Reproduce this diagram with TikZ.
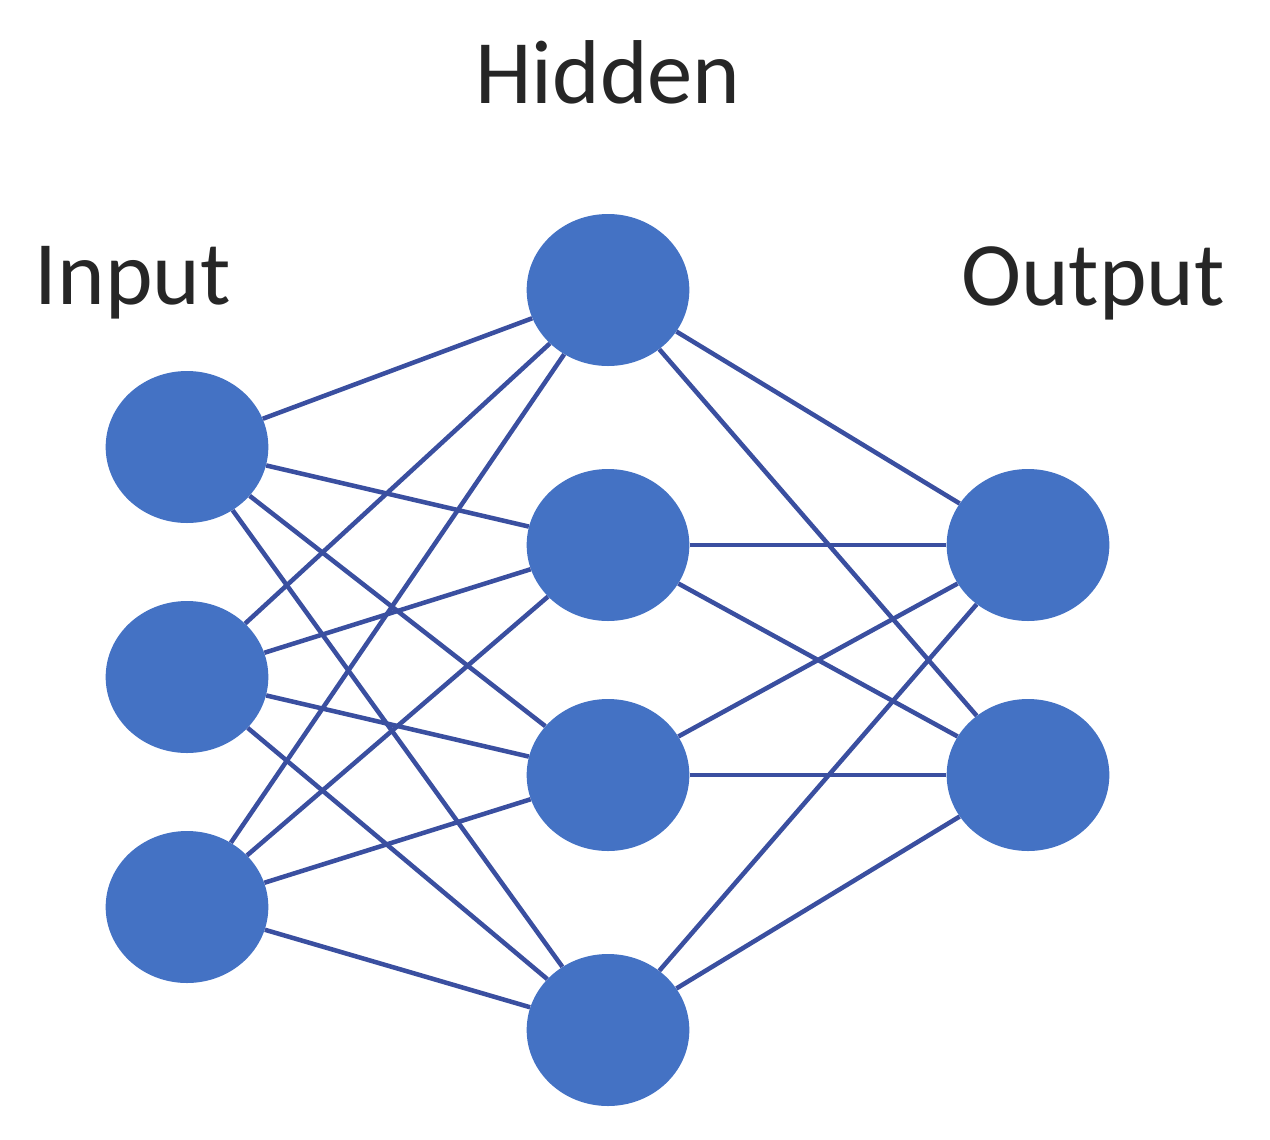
\documentclass[tikz,border=0pt]{standalone}
\usepackage{fontspec}
\setmainfont{Carlito}
\usetikzlibrary{shapes.geometric}
\definecolor{nodeblue}{HTML}{4472C4}
\definecolor{edgeblue}{HTML}{3A4FA0}
\begin{document}
\begin{tikzpicture}[x=0.75pt,y=-0.75pt,
  neuron/.style={ellipse,fill=nodeblue,draw=none,minimum width=122pt,minimum height=114pt,inner sep=0pt},
  edge/.style={draw=edgeblue,line width=3.4pt},
  lbl/.style={font=\fontsize{68}{76}\selectfont,text=black!85}]
\useasboundingbox (0,0) rectangle (1270,1139);
\node[neuron] (i1) at (187,447) {};
\node[neuron] (i2) at (187,677) {};
\node[neuron] (i3) at (187,907) {};
\node[neuron] (h1) at (608,290) {};
\node[neuron] (h2) at (608,545) {};
\node[neuron] (h3) at (608,775) {};
\node[neuron] (h4) at (608,1030) {};
\node[neuron] (o1) at (1028,545) {};
\node[neuron] (o2) at (1028,775) {};
\foreach \a in {i1,i2,i3}{\foreach \b in {h1,h2,h3,h4}{\draw[edge] (\a) -- (\b);}}
\foreach \a in {h1,h2,h3,h4}{\foreach \b in {o1,o2}{\draw[edge] (\a) -- (\b);}}
\node[lbl] (th) at (608,72) {Hidden};
\node[lbl] (ti) at (133,283) {Input};
\node[lbl] (to) at (1093,283) {Output};
\end{tikzpicture}
\end{document}
